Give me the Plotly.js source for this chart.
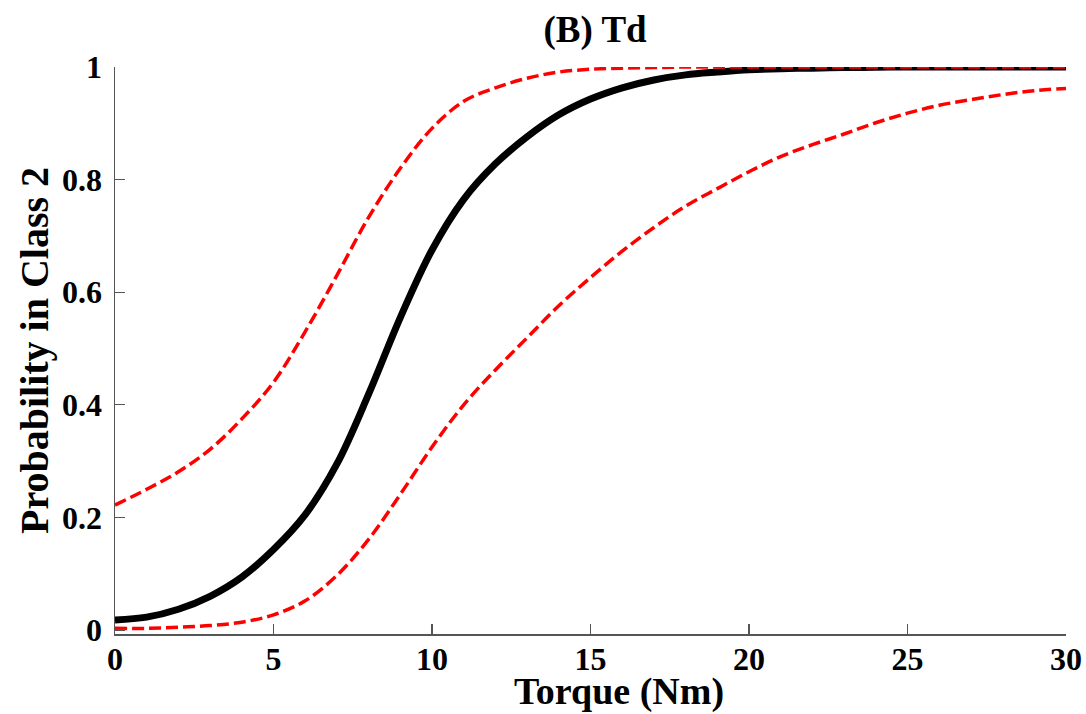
<!DOCTYPE html>
<html>
<head>
<meta charset="utf-8">
<script src="https://cdn.plot.ly/plotly-3.0.1.min.js"></script>
<style>
  html, body { margin: 0; padding: 0; background: #ffffff; }
  #chart { width: 1086px; height: 714px; }
</style>
</head>
<body>
<div id="chart"></div>
<script>
// Torque values (Nm)
const torque = [0, 1, 2, 3, 4, 5, 6, 7, 8, 9, 10, 11, 12, 13, 14, 15, 16, 17, 18, 19, 20, 21, 22, 23, 24, 25, 26, 27, 28, 29, 30];

// Estimated probability in Class 2 (solid black)
const probEstimate = [0.018, 0.023, 0.037, 0.060, 0.094, 0.143, 0.205, 0.295, 0.419, 0.555, 0.675, 0.765, 0.828, 0.876, 0.915, 0.943, 0.963, 0.977, 0.986, 0.991, 0.995, 0.997, 0.998, 0.999, 0.9995, 1.0, 1.0, 1.0, 1.0, 1.0, 1.0];

// Upper confidence bound (red dashed)
const probUpper = [0.222, 0.250, 0.281, 0.321, 0.375, 0.440, 0.530, 0.630, 0.733, 0.820, 0.891, 0.939, 0.963, 0.980, 0.991, 0.996, 0.998, 0.999, 1.0, 1.0, 1.0, 1.0, 1.0, 1.0, 1.0, 1.0, 1.0, 1.0, 1.0, 1.0, 1.0];

// Lower confidence bound (red dashed)
const probLower = [0.003, 0.003, 0.005, 0.008, 0.014, 0.027, 0.052, 0.097, 0.161, 0.241, 0.325, 0.400, 0.462, 0.519, 0.576, 0.626, 0.673, 0.715, 0.753, 0.784, 0.814, 0.841, 0.862, 0.881, 0.901, 0.918, 0.932, 0.942, 0.951, 0.958, 0.962];

const xTickVals = [0, 5, 10, 15, 20, 25, 30];
const xTickText = ['0', '5', '10', '15', '20', '25', '30'];
const yTickVals = [0, 0.2, 0.4, 0.6, 0.8, 1];
const yTickText = ['0', '0.2', '0.4', '0.6', '0.8', '1'];

const serif = '"Liberation Serif", "Times New Roman", Times, serif';
const axisGrey = '#555555';

const traces = [
  {
    x: torque, y: probEstimate, type: 'scatter', mode: 'lines',
    name: 'Estimate',
    line: { color: '#000000', width: 7, shape: 'spline', smoothing: 1 },
    hoverinfo: 'x+y'
  },
  {
    x: torque, y: probUpper, type: 'scatter', mode: 'lines',
    name: 'Upper bound',
    line: { color: '#ff0000', width: 3.5, dash: '12px,5px', shape: 'spline', smoothing: 1 },
    hoverinfo: 'x+y'
  },
  {
    x: torque, y: probLower, type: 'scatter', mode: 'lines',
    name: 'Lower bound',
    line: { color: '#ff0000', width: 3.5, dash: '12px,5px', shape: 'spline', smoothing: 1 },
    hoverinfo: 'x+y'
  }
];

const layout = {
  width: 1086, height: 714,
  paper_bgcolor: '#ffffff', plot_bgcolor: '#ffffff',
  showlegend: false,
  margin: { l: 115, r: 20, t: 67, b: 80, pad: 0 },
  font: { family: serif, color: '#000000' },
  title: {
    text: '<b>(B) Td</b>',
    font: { family: serif, size: 37, color: '#000000' },
    x: 0.548, xref: 'container', xanchor: 'center',
    y: 1 - 29 / 714, yref: 'container', yanchor: 'middle'
  },
  xaxis: {
    range: [0, 30],
    tickmode: 'array', tickvals: xTickVals, ticktext: xTickText,
    ticks: 'inside', ticklen: 10, tickwidth: 1.3, tickcolor: axisGrey,
    showline: true, linecolor: axisGrey, linewidth: 1.5,
    showgrid: false, zeroline: false,
    tickfont: { family: serif, size: 32, color: '#000000', weight: 'bold' },
    ticklabelstandoff: -4
  },
  yaxis: {
    range: [-0.007, 1],
    tickmode: 'array', tickvals: yTickVals, ticktext: yTickText,
    ticks: 'inside', ticklen: 10, tickwidth: 1.3, tickcolor: axisGrey,
    showline: true, linecolor: axisGrey, linewidth: 1.5,
    showgrid: false, zeroline: false,
    tickfont: { family: serif, size: 32, color: '#000000', weight: 'bold' },
    ticklabelstandoff: 5,
    title: {
      text: '<b>Probability in Class 2</b>',
      font: { family: serif, size: 40, color: '#000000' },
      standoff: 1
    }
  },
  annotations: [
    {
      text: '<b>Torque (Nm)</b>',
      xref: 'paper', yref: 'paper',
      x: (619 - 115) / 951, y: -(692 - 634) / 567,
      xanchor: 'center', yanchor: 'middle',
      showarrow: false,
      font: { family: serif, size: 38, color: '#000000' }
    }
  ]
};

Plotly.newPlot('chart', traces, layout, { staticPlot: true, displayModeBar: false });
</script>
</body>
</html>
